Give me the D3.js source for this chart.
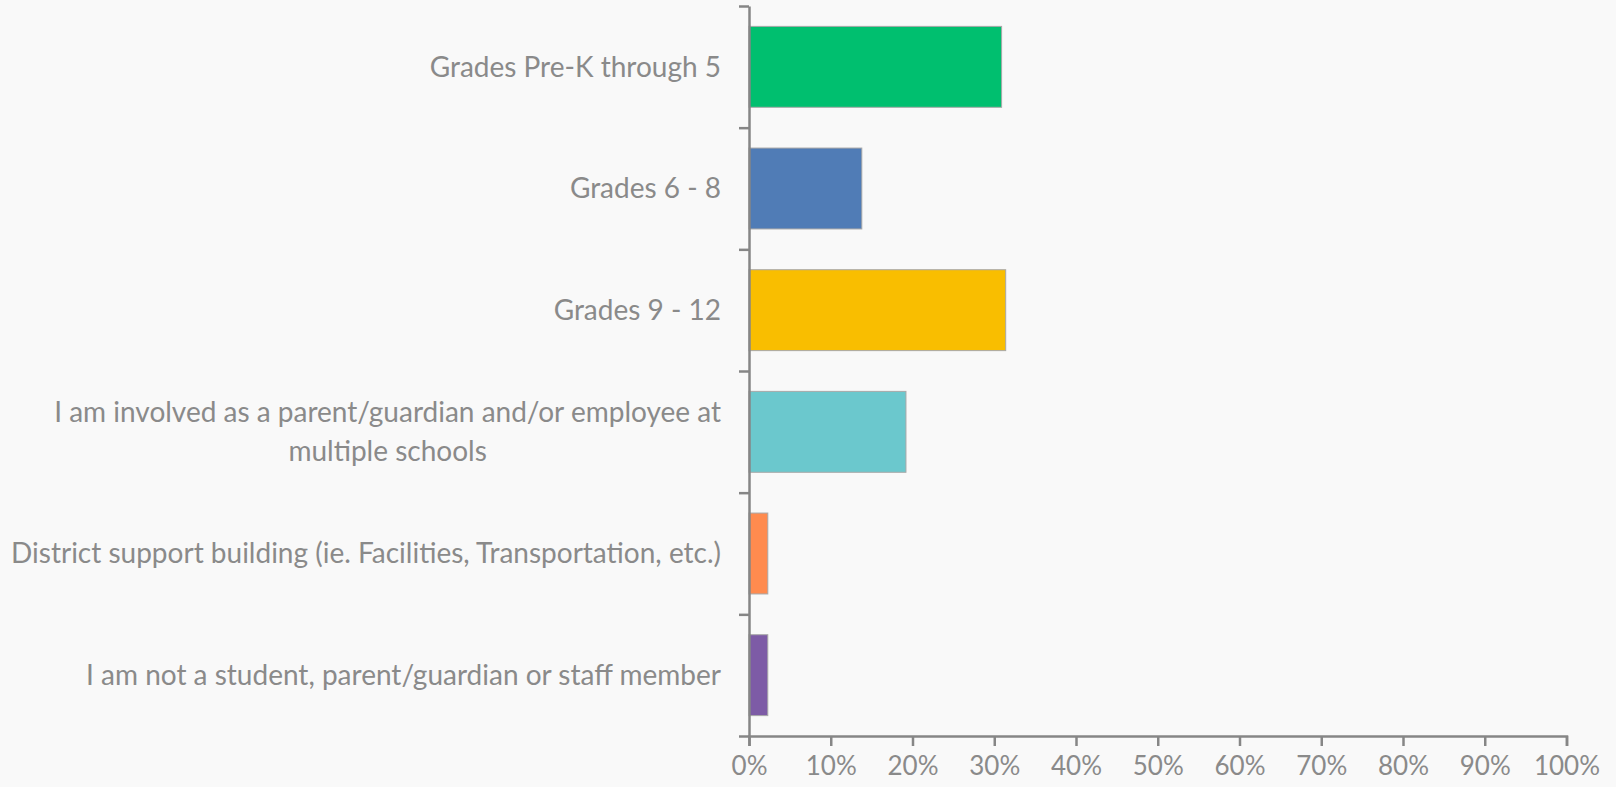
<!DOCTYPE html>
<html>
<head>
<meta charset="utf-8">
<script src="https://cdn.jsdelivr.net/npm/d3@7"></script>
<style>
  html, body { margin: 0; padding: 0; background: #f9f9f9; }
  svg { display: block; }
  text { font-family: Lato, "Open Sans", sans-serif; fill: #8a8a8a; }
</style>
</head>
<body>
<script>
const categories = [
  'Grades Pre-K through 5',
  'Grades 6 - 8',
  'Grades 9 - 12',
  'I am involved as a parent/guardian and/or employee at multiple schools',
  'District support building (ie. Facilities, Transportation, etc.)',
  'I am not a student, parent/guardian or staff member'
];
const values = [30.9, 13.8, 31.4, 19.2, 2.3, 2.3];
const colors = ['#00bf6f', '#507cb6', '#f9be00', '#6bc8cd', '#ff8b4f', '#7d5ba6'];
const xTicks = [0, 10, 20, 30, 40, 50, 60, 70, 80, 90, 100];

const margin = { top: 6, right: 49.5, bottom: 51, left: 749 };
const width = 1616 - margin.left - margin.right;
const height = 787 - margin.top - margin.bottom;

const svg = d3.select('body').append('svg')
  .attr('width', 1616)
  .attr('height', 787)
  .style('background', '#f9f9f9')
  .append('g')
  .attr('transform', `translate(${margin.left}, ${margin.top})`);

const x = d3.scaleLinear().domain([0, 100]).range([0, width]);
const y = d3.scaleBand().domain(categories).range([0, height])
  .paddingInner(0.335).paddingOuter(0.1675);
// boundaries between categories, for the y axis ticks
const yEdge = d3.scaleLinear().domain([0, categories.length]).range([0, height]);

// bars
svg.selectAll('.bar')
  .data(categories)
  .enter()
  .append('rect')
  .attr('class', 'bar')
  .attr('x', x(0))
  .attr('y', d => y(d))
  .attr('width', (d, i) => x(values[i]) - x(0))
  .attr('height', y.bandwidth())
  .style('fill', (d, i) => colors[i])
  .style('stroke', '#a8a8a8')
  .style('stroke-width', 1);

// x axis
const xAxis = svg.append('g')
  .attr('class', 'x axis')
  .attr('transform', `translate(0,${height})`)
  .call(d3.axisBottom(x).tickValues(xTicks).tickSize(10).tickSizeOuter(10)
    .tickPadding(11).tickFormat(d => d + '%'));

// y axis
const yAxis = svg.append('g')
  .attr('class', 'y axis')
  .call(d3.axisLeft(yEdge).tickValues(d3.range(categories.length + 1))
    .tickSize(10).tickSizeOuter(0).tickFormat(''));

svg.selectAll('.axis path, .axis line')
  .style('stroke', '#868686')
  .style('stroke-width', 2.5);
svg.selectAll('.axis path').style('fill', 'none');
xAxis.selectAll('text')
  .style('font-size', '26px')
  .style('fill', '#8a8a8a')
  .style('font-family', 'Lato, sans-serif');

// category labels, wrapped and centred like Excel does
const labelRight = -28;
const maxW = 720;
const lineH = 39;

categories.forEach(cat => {
  const t = svg.append('text')
    .attr('class', 'label')
    .style('font-size', '28px');
  const words = cat.split(' ');
  let lines = [];
  let line = [];
  const probe = t.append('tspan');
  words.forEach(w => {
    line.push(w);
    probe.text(line.join(' '));
    if (probe.node().getComputedTextLength() > maxW && line.length > 1) {
      line.pop();
      lines.push(line.join(' '));
      line = [w];
    }
  });
  lines.push(line.join(' '));
  probe.remove();

  const widths = lines.map(l => {
    const s = t.append('tspan').text(l);
    const wl = s.node().getComputedTextLength();
    s.remove();
    return wl;
  });
  const blockW = d3.max(widths);
  const cx = labelRight - blockW / 2;
  const cy = y(cat) + y.bandwidth() / 2;
  const y0 = cy - (lines.length - 1) * lineH / 2;

  t.attr('text-anchor', 'middle');
  lines.forEach((l, i) => {
    t.append('tspan')
      .attr('x', cx)
      .attr('y', y0 + i * lineH)
      .attr('dy', '0.35em')
      .text(l);
  });
});
</script>
</body>
</html>
